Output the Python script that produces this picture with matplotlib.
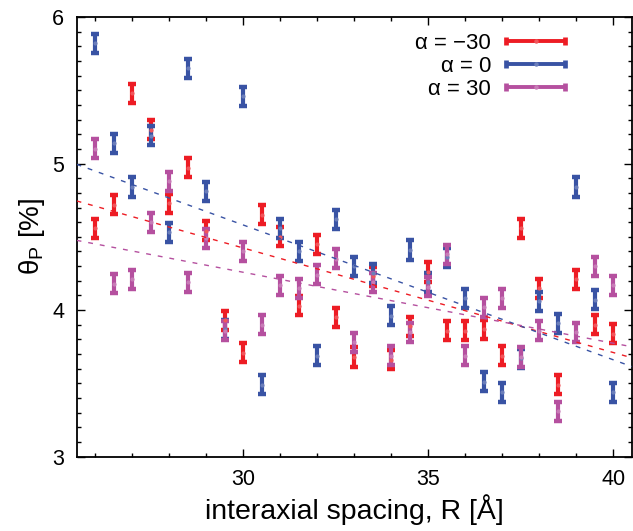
#!/usr/bin/env python3
# theta_P vs interaxial spacing R, three tilt angles, with linear fits
# Produces: out.png

import numpy as np
import matplotlib.pyplot as plt
import matplotlib.colors as mcolors
from matplotlib.lines import Line2D
from matplotlib.legend_handler import HandlerBase
from matplotlib.ticker import MultipleLocator

plt.rcParams['font.family'] = ['Liberation Sans', 'DejaVu Sans']
plt.rcParams['mathtext.fontset'] = 'custom'
plt.rcParams['mathtext.rm'] = 'Liberation Sans'
plt.rcParams['mathtext.it'] = 'Liberation Sans:italic'

# ───────────────────────────────────────────────────────────────
#  Data
# ───────────────────────────────────────────────────────────────

R = [26, 26.5, 27, 27.5, 28, 28.5, 29, 29.5, 30, 30.5, 31, 31.5, 32, 32.5, 33,
     33.5, 34, 34.5, 35, 35.5, 36, 36.5, 37, 37.5, 38, 38.5, 39, 39.5, 40]

theta_m30 = [4.56, 4.72, 5.48, 5.23, 4.73, 4.97, 4.54, 3.93, 3.71, 4.65, 4.50,
             4.03, 4.45, 3.95, 3.68, 4.23, 3.66, 3.89, 4.26, 3.86, 3.86, 3.87,
             3.69, 4.56, 4.15, 3.49, 4.21, 3.90, 3.84]

theta_0 = [5.82, 5.14, 4.84, 5.19, 4.53, 5.65, 4.81, 3.87, 5.46, 3.49, 4.56,
           4.40, 3.69, 4.62, 4.30, 4.25, 3.96, 4.41, 4.19, 4.36, 4.08, 3.51,
           3.44, 3.67, 4.06, 3.91, 4.84, 4.07, 3.44]

theta_p30 = [5.10, 4.18, 4.21, 4.60, 4.88, 4.19, 4.49, 3.86, 4.40, 3.90, 4.17,
             4.15, 4.24, 4.35, 3.78, 4.19, 3.69, 3.85, 4.16, 4.38, 3.69, 4.02,
             4.08, 3.68, 3.86, 3.31, 3.85, 4.30, 4.17]

err = 0.065

# linear fits as drawn in the figure: value at R = 25.5 and at R = 40.5
fit_R = [25.5, 40.5]
fit_m30 = [4.745, 3.675]
fit_0 = [4.995, 3.615]
fit_p30 = [4.476, 3.750]

labels = ["α = −30", "α = 0", "α = 30"]
colors = ["#ED1C24", "#3953A4", "#B5509F"]
series = [theta_m30, theta_0, theta_p30]
fits = [fit_m30, fit_0, fit_p30]


def lighten(c, f=0.25):
    r, g, b = mcolors.to_rgb(c)
    return (r + (1 - r) * f, g + (1 - g) * f, b + (1 - b) * f)


class HandlerHBar(HandlerBase):
    """Legend sample: horizontal bar with end caps and a dot in the middle."""
    def create_artists(self, legend, orig_handle, xdescent, ydescent,
                       width, height, fontsize, trans):
        c = orig_handle.get_color()
        x0, x1 = -xdescent + 2, width - xdescent - 2
        y = height / 2 - ydescent
        bar = Line2D([x0, x1], [y, y], color=c, lw=2.8, solid_capstyle='butt')
        caps = Line2D([x0, x1], [y, y], ls='none', marker='|', ms=6,
                      mew=3.4, color=c)
        dot = Line2D([(x0 + x1) / 2], [y], ls='none', marker='o', ms=2.2,
                     color=lighten(c))
        for a in (bar, caps, dot):
            a.set_transform(trans)
        return [bar, caps, dot]


# ───────────────────────────────────────────────────────────────
#  Plot
# ───────────────────────────────────────────────────────────────

fig = plt.figure(figsize=(6.33, 5.31), dpi=100)
ax = fig.add_axes([0.121, 0.140, 0.877, 0.828])

xs = np.array(R)
handles = []
for y, c, lab in zip(series, colors, labels):
    ax.errorbar(xs, y, yerr=err, fmt='none', ecolor=c, elinewidth=3.0,
                capsize=3.2, capthick=3.2, zorder=3)
    ax.plot(xs, y, 'o', ms=2.0, color=lighten(c), zorder=4)
    handles.append(Line2D([], [], color=c, label=lab))

for f, c in zip(fits, colors):
    ax.plot(fit_R, f, color=c, lw=1.0, dashes=(3.5, 5), zorder=5)

ax.set_xlim(fit_R[0], fit_R[1])
ax.set_ylim(3, 6)
ax.xaxis.set_major_locator(MultipleLocator(5))
ax.xaxis.set_minor_locator(MultipleLocator(1))
ax.yaxis.set_major_locator(MultipleLocator(1))
ax.yaxis.set_minor_locator(MultipleLocator(0.1))
ax.tick_params(which='both', direction='in', top=True, right=True,
               width=1.0, labelsize=15.5)
ax.tick_params(which='major', length=6, pad=9)
ax.tick_params(which='minor', length=3)
for sp in ax.spines.values():
    sp.set_linewidth(1.3)

ax.set_xlabel("interaxial spacing, R [Å]", fontsize=20.5, labelpad=3)
ax.set_ylabel(r"θ$_\mathrm{P}$ [%]", fontsize=20, labelpad=4)

ax.legend(handles=handles, handler_map={Line2D: HandlerHBar()},
          loc='upper right', bbox_to_anchor=(0.885, 0.963), frameon=False,
          markerfirst=False, fontsize=16, handlelength=2.9,
          handletextpad=0.55, labelspacing=0.08, borderpad=0, borderaxespad=0)

fig.savefig("out.png", dpi=100)
